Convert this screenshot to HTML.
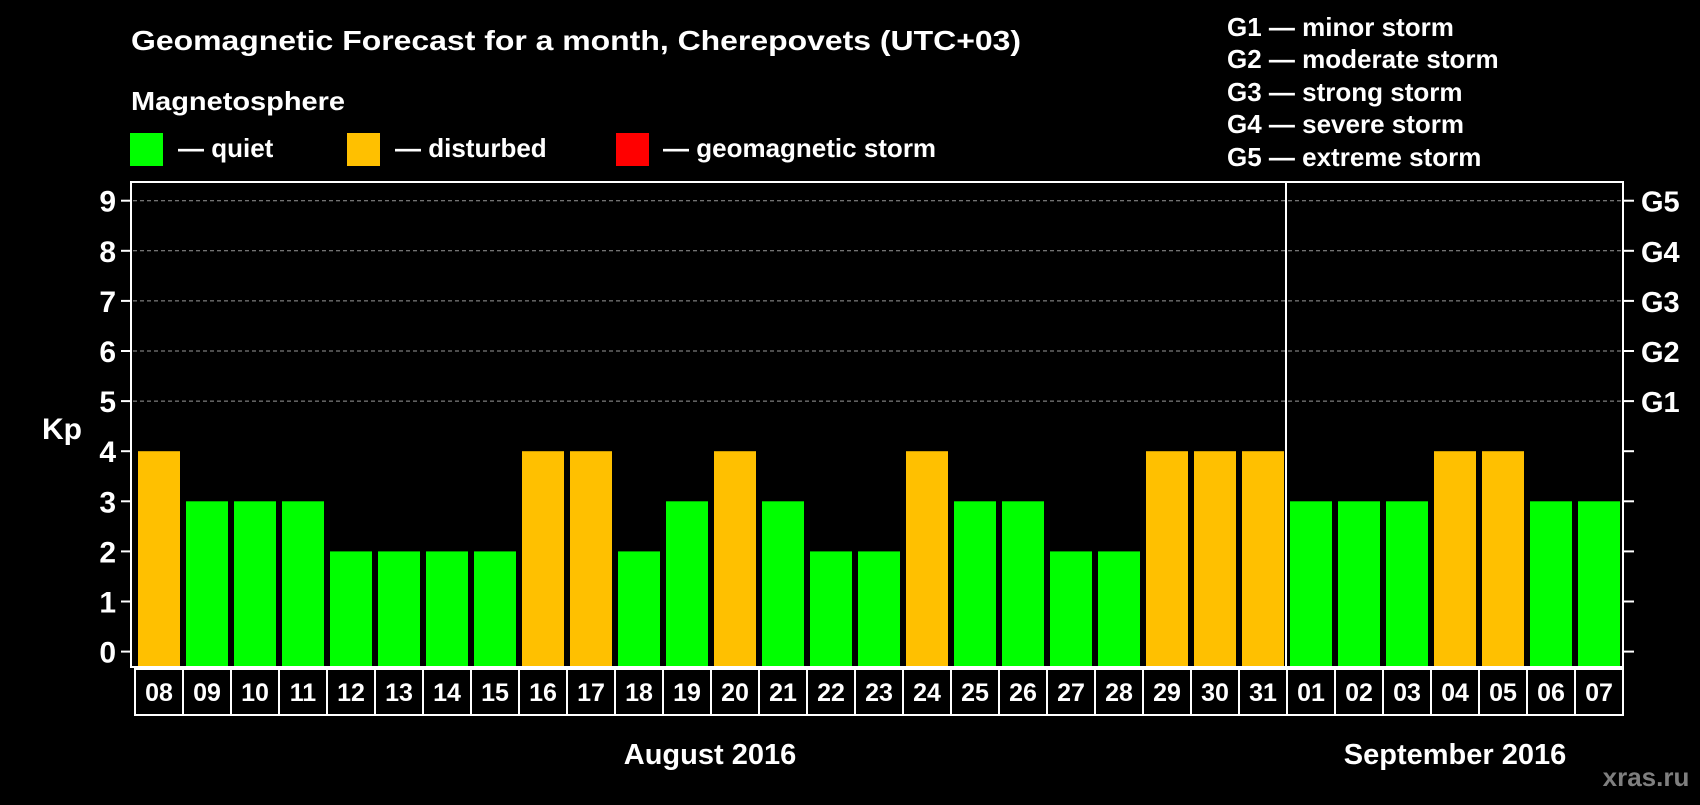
<!DOCTYPE html>
<html><head><meta charset="utf-8"><style>
body{margin:0;background:#000;}
svg text{font-family:"Liberation Sans",Arial,sans-serif;font-weight:bold;fill:#fff;}
</style></head><body>
<svg id="chart" width="1700" height="800" xmlns="http://www.w3.org/2000/svg">
<rect width="1700" height="800" fill="#000"/>
<text x="131" y="50" font-size="28" textLength="890" lengthAdjust="spacingAndGlyphs">Geomagnetic Forecast for a month, Cherepovets (UTC+03)</text>
<text x="131" y="110" font-size="26" textLength="214" lengthAdjust="spacingAndGlyphs">Magnetosphere</text>
<g><rect x="130" y="133" width="33" height="33" fill="#00ff00"/><text x="178" y="157" font-size="26">— quiet</text></g>
<g><rect x="347" y="133" width="33" height="33" fill="#ffc000"/><text x="395" y="157" font-size="26">— disturbed</text></g>
<g><rect x="616" y="133" width="33" height="33" fill="#ff0000"/><text x="663" y="157" font-size="26">— geomagnetic storm</text></g>
<g font-size="26">
<text x="1227" y="36">G1 — minor storm</text>
<text x="1227" y="68">G2 — moderate storm</text>
<text x="1227" y="101">G3 — strong storm</text>
<text x="1227" y="133">G4 — severe storm</text>
<text x="1227" y="166">G5 — extreme storm</text>
</g>
<text x="42" y="439" font-size="30">Kp</text>
<g id="grid"></g>
<g id="bars"></g>
<rect x="131" y="182" width="1492" height="485" fill="none" stroke="#fff" stroke-width="2"/>
<line x1="1286" y1="182" x2="1286" y2="667" stroke="#fff" stroke-width="2"/>
<g id="axes"></g>
<text x="710" y="764" font-size="29" text-anchor="middle">August 2016</text>
<text x="1455" y="764" font-size="29" text-anchor="middle">September 2016</text>
<text x="1646" y="786" font-size="26" text-anchor="middle" style="fill:#7f7f7f">xras.ru</text>
</svg>
<script>
const days=["08","09","10","11","12","13","14","15","16","17","18","19","20","21","22","23","24","25","26","27","28","29","30","31","01","02","03","04","05","06","07"];
const kp=[4,3,3,3,2,2,2,2,4,4,2,3,4,3,2,2,4,3,3,2,2,4,4,4,3,3,3,4,4,3,3];
const yTicks=[0,1,2,3,4,5,6,7,8,9];
const gLabels=["G1","G2","G3","G4","G5"];
const NS="http://www.w3.org/2000/svg";
const y0=651.6, unit=50.1, x0=135, pitch=48, plotBottom=667;
const yS=v=>y0-v*unit;
const xS=i=>x0+i*pitch;
function mk(t,a,p){const e=document.createElementNS(NS,t);for(const k in a)e.setAttribute(k,a[k]);p.appendChild(e);return e;}
const grid=document.getElementById('grid'),bars=document.getElementById('bars'),axes=document.getElementById('axes');
yTicks.forEach(v=>{
  const y=yS(v);
  if(v>=5){const l=mk('line',{x1:133,x2:1621,y1:y,y2:y,stroke:'#999','stroke-dasharray':'4,3','stroke-width':1},grid);
  
  }
  mk('line',{x1:121,x2:131,y1:y,y2:y,stroke:'#fff','stroke-width':2},axes);
  mk('line',{x1:1623,x2:1634,y1:y,y2:y,stroke:'#fff','stroke-width':2},axes);
  const t=mk('text',{x:116,y:y+11,'font-size':30,'text-anchor':'end'},axes);
  t.textContent=v;
  
  
});
gLabels.forEach((g,i)=>{
  const t=mk('text',{x:1641,y:yS(5+i)+11,'font-size':29},axes);
  t.textContent=g;
  
  
});
days.forEach((d,i)=>{
  const v=kp[i];
  const col=v>=5?'#ff0000':(v>=4?'#ffc000':'#00ff00');
  const r=mk('rect',{x:xS(i)+3,y:yS(v),width:42,height:plotBottom-1-yS(v),fill:col},bars);
  
  
  const b=mk('rect',{x:xS(i),y:669,width:pitch,height:46,fill:'none',stroke:'#fff','stroke-width':2},axes);
  
  
  const t=mk('text',{x:xS(i)+pitch/2,y:701,'font-size':25,'text-anchor':'middle'},axes);
  t.textContent=d;
  
  
});
</script>
</body></html>
